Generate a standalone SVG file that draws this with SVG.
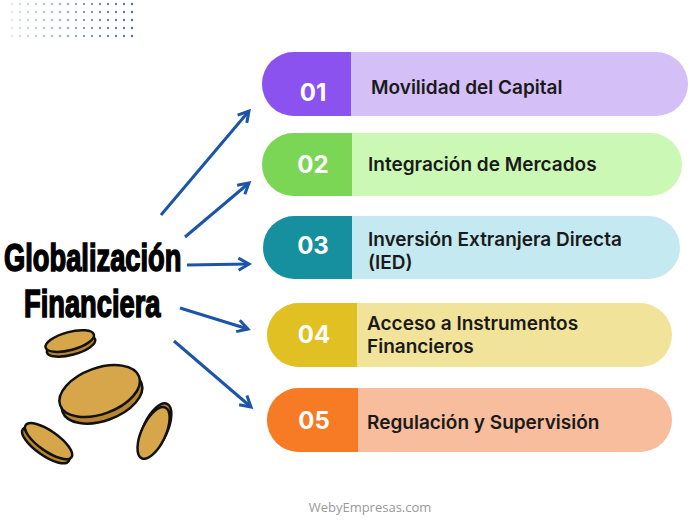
<svg xmlns="http://www.w3.org/2000/svg" width="696" height="522" viewBox="0 0 696 522">
<style>
.num{font-family:"Inter","Liberation Sans",sans-serif;font-weight:700;font-size:24px;fill:#fff}
.lbl{font-family:"Inter","Liberation Sans",sans-serif;font-weight:600;font-size:19px;fill:#1a1a1a}
.title{font-family:"Liberation Sans",sans-serif;font-weight:700;font-size:39px;fill:#000;stroke:#000;stroke-width:1.6}
.arr{stroke:#1c55a8;stroke-width:3;fill:none;marker-end:url(#ah)}
.coin{fill:#d7a64a;stroke:#111;stroke-width:2.5}
.rim{fill:#b8852e;stroke:#111;stroke-width:2.5}
</style>
<defs>
<marker id="ah" viewBox="0 0 10 10" refX="8" refY="5" markerWidth="5" markerHeight="5" orient="auto"><path d="M1,1 L8,5 L1,9" fill="none" stroke="#1c55a8" stroke-width="2"/></marker>
<clipPath id="c1"><rect x="262" y="52" width="426" height="64" rx="32"/></clipPath>
<clipPath id="c2"><rect x="262" y="133" width="420" height="63" rx="31.5"/></clipPath>
<clipPath id="c3"><rect x="263" y="216" width="417" height="63" rx="31.5"/></clipPath>
<clipPath id="c4"><rect x="267" y="303" width="405" height="64" rx="32"/></clipPath>
<clipPath id="c5"><rect x="267" y="388" width="405" height="64" rx="32"/></clipPath>
<pattern id="dots" width="8" height="8" patternUnits="userSpaceOnUse"><circle cx="4" cy="4" r="1.2" fill="#3a6aa8"/></pattern>
<linearGradient id="fade" x1="0" x2="1"><stop offset="0" stop-color="#fff" stop-opacity="0.85"/><stop offset="1" stop-color="#fff" stop-opacity="0"/></linearGradient>
</defs>
<rect width="696" height="522" fill="#fff"/>
<g id="dots-deco"><rect x="8" y="2" width="130" height="40" fill="url(#dots)"/><rect x="8" y="2" width="130" height="40" fill="url(#fade)"/></g>
<g id="title">
<text class="title" transform="translate(4,271) scale(0.7,1)">Globalización</text>
<text class="title" transform="translate(24,317) scale(0.7,1)">Financiera</text>
</g>
<g id="coins">
<g transform="rotate(-15 70 342)"><ellipse class="rim" cx="70" cy="346" rx="25" ry="9"/><ellipse class="coin" cx="70" cy="341" rx="25" ry="9"/></g>
<g transform="rotate(-20 100 392)"><ellipse class="rim" cx="100" cy="398" rx="42" ry="23"/><ellipse class="coin" cx="100" cy="391" rx="42" ry="23"/></g>
<g transform="rotate(-65 154 432)"><ellipse class="rim" cx="157" cy="432" rx="28" ry="12"/><ellipse class="coin" cx="153" cy="432" rx="28" ry="12"/></g>
<g transform="rotate(35 48 442)"><ellipse class="rim" cx="48" cy="446" rx="28" ry="10"/><ellipse class="coin" cx="48" cy="441" rx="28" ry="10"/></g>
</g>
<g id="connectors">
<line class="arr" x1="161" y1="215" x2="249" y2="111"/>
<line class="arr" x1="185" y1="237" x2="249" y2="183"/>
<line class="arr" x1="187" y1="265" x2="249" y2="264"/>
<line class="arr" x1="180" y1="308" x2="248" y2="329"/>
<line class="arr" x1="174" y1="341" x2="251" y2="407"/>
</g>
<g id="n1" clip-path="url(#c1)"><rect x="262" y="52" width="426" height="64" fill="#d4bff7"/><rect x="262" y="52" width="89" height="64" fill="#8c52f0"/><text class="num" x="313" y="101" text-anchor="middle">01</text><text class="lbl" x="371" y="94">Movilidad del Capital</text></g>
<g id="n2" clip-path="url(#c2)"><rect x="262" y="133" width="420" height="63" fill="#cbf9b5"/><rect x="262" y="133" width="90" height="63" fill="#7cd656"/><text class="num" x="313" y="173" text-anchor="middle">02</text><text class="lbl" x="368" y="171">Integración de Mercados</text></g>
<g id="n3" clip-path="url(#c3)"><rect x="263" y="216" width="417" height="63" fill="#c4e9f1"/><rect x="263" y="216" width="89" height="63" fill="#16909f"/><text class="num" x="313" y="254" text-anchor="middle">03</text><text class="lbl" x="368" y="246">Inversión Extranjera Directa</text><text class="lbl" x="368" y="269">(IED)</text></g>
<g id="n4" clip-path="url(#c4)"><rect x="267" y="303" width="405" height="64" fill="#f2e39b"/><rect x="267" y="303" width="90" height="64" fill="#e0c022"/><text class="num" x="314" y="343" text-anchor="middle">04</text><text class="lbl" x="367" y="330">Acceso a Instrumentos</text><text class="lbl" x="367" y="353">Financieros</text></g>
<g id="n5" clip-path="url(#c5)"><rect x="267" y="388" width="405" height="64" fill="#f8bd9c"/><rect x="267" y="388" width="91" height="64" fill="#f77a25"/><text class="num" x="314" y="429" text-anchor="middle">05</text><text class="lbl" x="367" y="429">Regulación y Supervisión</text></g>
<text x="370" y="512" text-anchor="middle" font-family="Open Sans, Liberation Sans, sans-serif" font-size="13" fill="#999">WebyEmpresas.com</text>
</svg>
